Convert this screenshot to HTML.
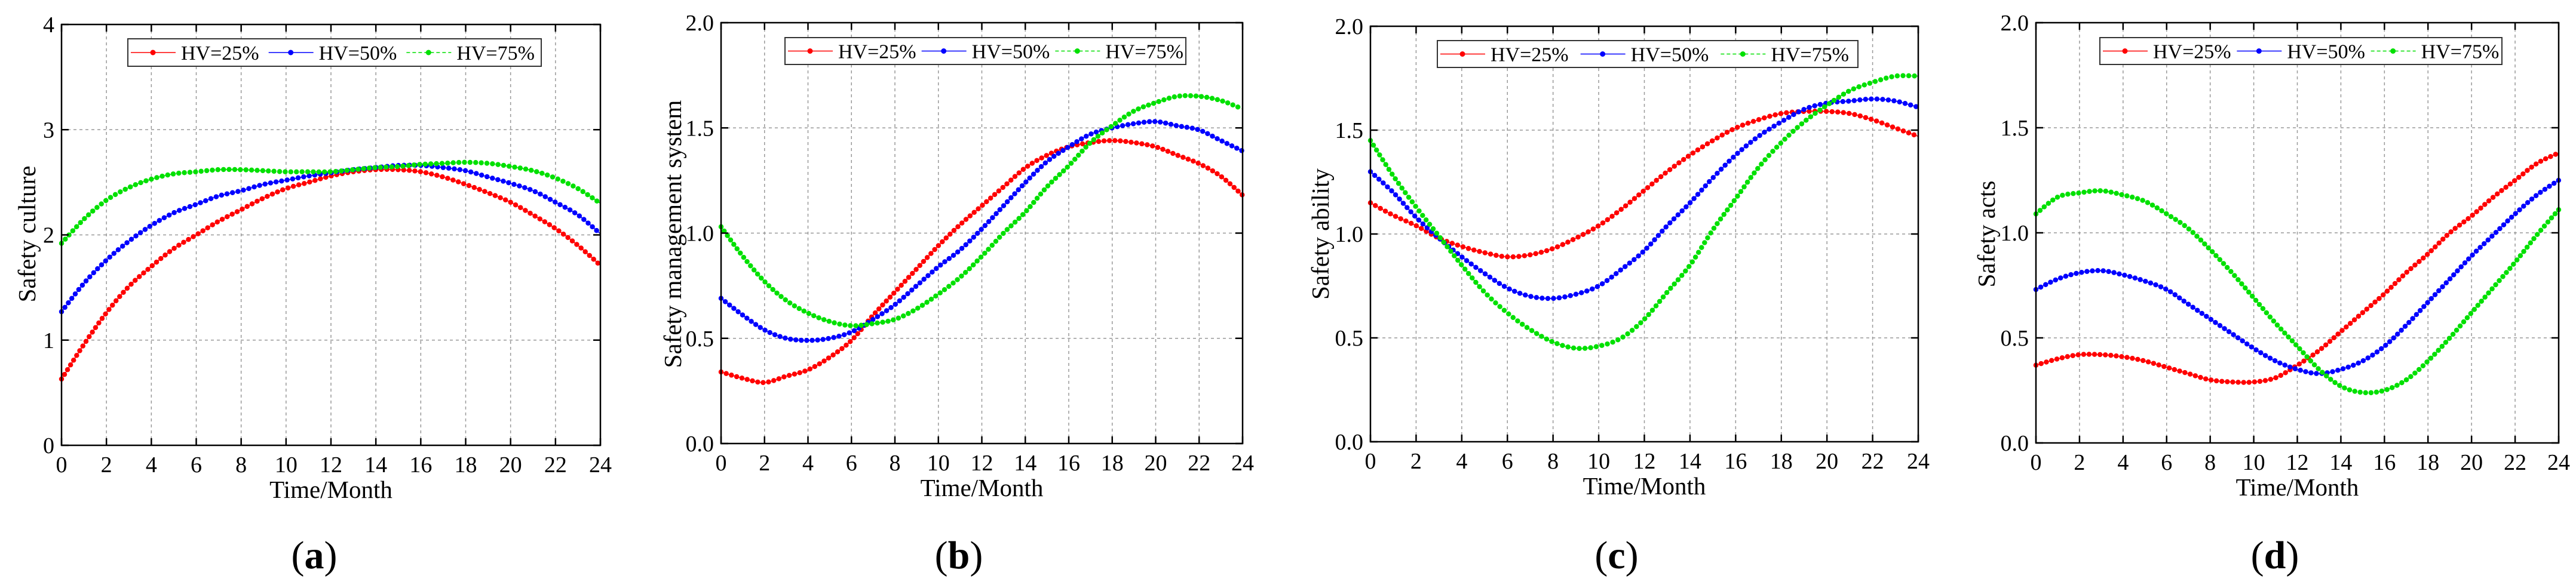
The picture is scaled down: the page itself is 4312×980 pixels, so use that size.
<!DOCTYPE html>
<html><head><meta charset="utf-8"><style>
html,body{margin:0;padding:0;background:#fff;}
svg{display:block;}
svg text{font-family:"Liberation Serif","Times New Roman",serif;}
</style></head><body>
<svg id="fig" width="4312" height="980" viewBox="0 0 4312 980" xmlns="http://www.w3.org/2000/svg" font-family="Liberation Serif, serif"></svg>
<script>
const months = [0,1,2,3,4,5,6,7,8,9,10,11,12,13,14,15,16,17,18,19,20,21,22,23,24];
const xTicks = [0,2,4,6,8,10,12,14,16,18,20,22,24];
const seriesNames = ["HV=25%","HV=50%","HV=75%"];

const aRed   = [0.63,0.96,1.26,1.51,1.70,1.87,2.00,2.13,2.24,2.35,2.44,2.50,2.56,2.60,2.62,2.62,2.60,2.55,2.48,2.40,2.31,2.19,2.06,1.90,1.71];
const aBlue  = [1.27,1.54,1.76,1.94,2.09,2.21,2.29,2.37,2.42,2.48,2.52,2.56,2.59,2.62,2.64,2.66,2.66,2.64,2.61,2.55,2.49,2.42,2.31,2.19,2.01];
const aGreen = [1.92,2.15,2.33,2.45,2.53,2.58,2.60,2.62,2.62,2.61,2.60,2.60,2.60,2.62,2.64,2.65,2.67,2.68,2.69,2.68,2.65,2.61,2.54,2.44,2.30];
const aYTicks = [0,1,2,3,4];
const aYLabels = ["0","1","2","3","4"];

const bRed   = [0.34,0.31,0.29,0.32,0.35,0.41,0.49,0.61,0.72,0.83,0.94,1.04,1.13,1.22,1.31,1.37,1.41,1.43,1.44,1.43,1.41,1.37,1.33,1.27,1.18];
const bBlue  = [0.69,0.61,0.54,0.50,0.49,0.50,0.53,0.59,0.66,0.75,0.84,0.92,1.02,1.13,1.24,1.34,1.41,1.47,1.50,1.52,1.53,1.51,1.49,1.44,1.39];
const bGreen = [1.03,0.89,0.77,0.68,0.62,0.58,0.56,0.57,0.59,0.64,0.71,0.79,0.89,1.00,1.10,1.22,1.32,1.43,1.51,1.58,1.62,1.65,1.65,1.63,1.59];

const cRed   = [1.15,1.09,1.04,0.98,0.94,0.91,0.89,0.90,0.93,0.98,1.04,1.12,1.21,1.30,1.38,1.45,1.51,1.55,1.58,1.59,1.59,1.58,1.55,1.51,1.47];
const cBlue  = [1.30,1.20,1.08,0.98,0.89,0.81,0.74,0.70,0.69,0.71,0.75,0.83,0.92,1.04,1.15,1.27,1.38,1.47,1.54,1.60,1.63,1.64,1.65,1.64,1.61];
const cGreen = [1.45,1.28,1.13,0.99,0.85,0.72,0.62,0.54,0.48,0.45,0.46,0.50,0.59,0.72,0.85,1.02,1.17,1.32,1.44,1.54,1.62,1.69,1.73,1.76,1.76];

const dRed   = [0.37,0.40,0.42,0.42,0.41,0.39,0.36,0.33,0.30,0.29,0.29,0.31,0.37,0.44,0.53,0.62,0.71,0.81,0.90,1.00,1.08,1.17,1.25,1.33,1.38];
const dBlue  = [0.73,0.78,0.81,0.82,0.80,0.77,0.73,0.66,0.59,0.52,0.45,0.39,0.35,0.33,0.35,0.39,0.46,0.56,0.67,0.78,0.89,0.99,1.09,1.18,1.25];
const dGreen = [1.09,1.17,1.19,1.20,1.18,1.15,1.09,1.02,0.92,0.81,0.69,0.57,0.46,0.35,0.27,0.24,0.25,0.30,0.39,0.50,0.62,0.74,0.86,0.99,1.11];
const halfYTicks = [0,0.5,1.0,1.5,2.0];
const halfYLabels = ["0.0","0.5","1.0","1.5","2.0"];

const NS = "http://www.w3.org/2000/svg";
const svg = document.getElementById('fig');
const colors = ["#ff0000","#0000ff","#00e000"];
const FONT = '"Liberation Serif", serif';
function mk(tag, attrs, parent){
  const e = document.createElementNS(NS, tag);
  for (const k in attrs) e.setAttribute(k, attrs[k]);
  if (tag === 'text') e.style.fontFamily = FONT;
  (parent||svg).appendChild(e);
  return e;
}
function smoothPath(pts){
  let d = "M" + pts[0][0] + "," + pts[0][1];
  for (let i=0;i<pts.length-1;i++){
    const p0 = pts[Math.max(0,i-1)], p1 = pts[i], p2 = pts[i+1], p3 = pts[Math.min(pts.length-1,i+2)];
    const c1x = p1[0]+(p2[0]-p0[0])/6, c1y = p1[1]+(p2[1]-p0[1])/6;
    const c2x = p2[0]-(p3[0]-p1[0])/6, c2y = p2[1]-(p3[1]-p1[1])/6;
    d += " C"+c1x+","+c1y+" "+c2x+","+c2y+" "+p2[0]+","+p2[1];
  }
  return d;
}
const panels = [
  {id:"a", L:103, R:1005, T:41, B:746, ymax:4, yt:aYTicks, yl:aYLabels, data:[aRed,aBlue,aGreen], title:"Safety culture", tx:45, leg:[214,65,906,111], cap:526},
  {id:"b", L:1207, R:2080, T:38, B:743, ymax:2, yt:halfYTicks, yl:halfYLabels, data:[bRed,bBlue,bGreen], title:"Safety management system", tx:1126, leg:[1314,63,1985,108], cap:1605},
  {id:"c", L:2294, R:3211, T:44, B:740, ymax:2, yt:halfYTicks, yl:halfYLabels, data:[cRed,cBlue,cGreen], title:"Safety ability", tx:2210, leg:[2406,68,3110,113], cap:2706},
  {id:"d", L:3408, R:4283, T:38, B:742, ymax:2, yt:halfYTicks, yl:halfYLabels, data:[dRed,dBlue,dGreen], title:"Safety acts", tx:3325, leg:[3515,63,4188,108], cap:3808}
];
panels.forEach(p => {
  const g = mk('g', {});
  
  
  const xs = v => p.L + (v/24)*(p.R-p.L);
  const ys = v => p.B - (v/p.ymax)*(p.B-p.T);
  xTicks.forEach(t => {
    if (t>0 && t<24){
      const l = mk('line', {x1:xs(t), x2:xs(t), y1:p.T, y2:p.B, stroke:"#999", "stroke-width":1.5, "stroke-dasharray":"5,5"}, g);
      
      
    }
  });
  p.yt.forEach(t => {
    if (t>0 && t<p.ymax){
      const l = mk('line', {x1:p.L, x2:p.R, y1:ys(t), y2:ys(t), stroke:"#999", "stroke-width":1.5, "stroke-dasharray":"5,5"}, g);
      
      
    }
  });
  p.data.forEach((arr, si) => {
    const pts = months.map((m,i) => [xs(m), ys(arr[i])]);
    const d = smoothPath(pts);
    const ln = mk('path', {d:d, fill:"none", stroke:colors[si], "stroke-width":1.5, "stroke-dasharray": si===2 ? "6,4" : "none"}, g);
    
    
    const step = (p.R-p.L)/96;
    const dots = mk('path', {d:d, fill:"none", stroke:colors[si], "stroke-width":8.5, "stroke-linecap":"round", "stroke-dasharray":"0,"+step.toFixed(3)}, g);
    
    
  });
  const fr = mk('rect', {x:p.L, y:p.T, width:p.R-p.L, height:p.B-p.T, fill:"none", stroke:"#000", "stroke-width":2.5}, g);
  
  
  xTicks.forEach(t => {
    mk('line', {x1:xs(t), x2:xs(t), y1:p.B, y2:p.B-12, stroke:"#000", "stroke-width":2.5}, g);
    mk('line', {x1:xs(t), x2:xs(t), y1:p.T, y2:p.T+12, stroke:"#000", "stroke-width":2.5}, g);
    const tl = mk('text', {x:xs(t), y:p.B+45, "font-size":38, "text-anchor":"middle", fill:"#000"}, g);
    tl.textContent = t;
    
    
  });
  p.yt.forEach((t,i) => {
    mk('line', {x1:p.L, x2:p.L+12, y1:ys(t), y2:ys(t), stroke:"#000", "stroke-width":2.5}, g);
    mk('line', {x1:p.R, x2:p.R-12, y1:ys(t), y2:ys(t), stroke:"#000", "stroke-width":2.5}, g);
    const tl = mk('text', {x:p.L-12, y:ys(t)+13, "font-size":38, "text-anchor":"end", fill:"#000"}, g);
    tl.textContent = p.yl[i];
    
    
  });
  const xt = mk('text', {x:(p.L+p.R)/2, y:p.B+88, "font-size":41, "text-anchor":"middle", fill:"#000"}, g);
  xt.textContent = "Time/Month";
  
  
  const yt = mk('text', {x:p.tx, y:392, "font-size":41, "text-anchor":"middle", "dominant-baseline":"central", transform:"rotate(-90 "+p.tx+" 392)", fill:"#000"}, g);
  yt.textContent = p.title;
  
  
  const [lx1, ly1, lx2, ly2] = p.leg;
  const lg = mk('g', {}, g);
  
  
  mk('rect', {x:lx1, y:ly1, width:lx2-lx1, height:ly2-ly1, fill:"#fff", stroke:"#333", "stroke-width":2}, lg);
  const stride = (lx2-lx1)/3;
  const cy = (ly1+ly2)/2;
  seriesNames.forEach((nm, si) => {
    const ex = lx1 + 5 + si*stride;
    const eg = mk('g', {}, lg);
    
    
    mk('line', {x1:ex, x2:ex+75, y1:cy, y2:cy, stroke:colors[si], "stroke-width":1.5, "stroke-dasharray": si===2 ? "6,4" : "none"}, eg);
    mk('circle', {cx:ex+37, cy:cy, r:4.5, fill:colors[si]}, eg);
    const t = mk('text', {x:ex+84, y:cy+12, "font-size":34, fill:"#000"}, eg);
    t.textContent = nm;
  });
  const cap = mk('text', {x:p.cap, y:952, "font-size":66, "text-anchor":"middle", fill:"#000"}, g);
  
  
  const s1 = mk('tspan', {}, cap); s1.textContent = "(";
  const s2 = mk('tspan', {"font-weight":"bold"}, cap); s2.textContent = p.id;
  const s3 = mk('tspan', {}, cap); s3.textContent = ")";
});
</script>
</body></html>
